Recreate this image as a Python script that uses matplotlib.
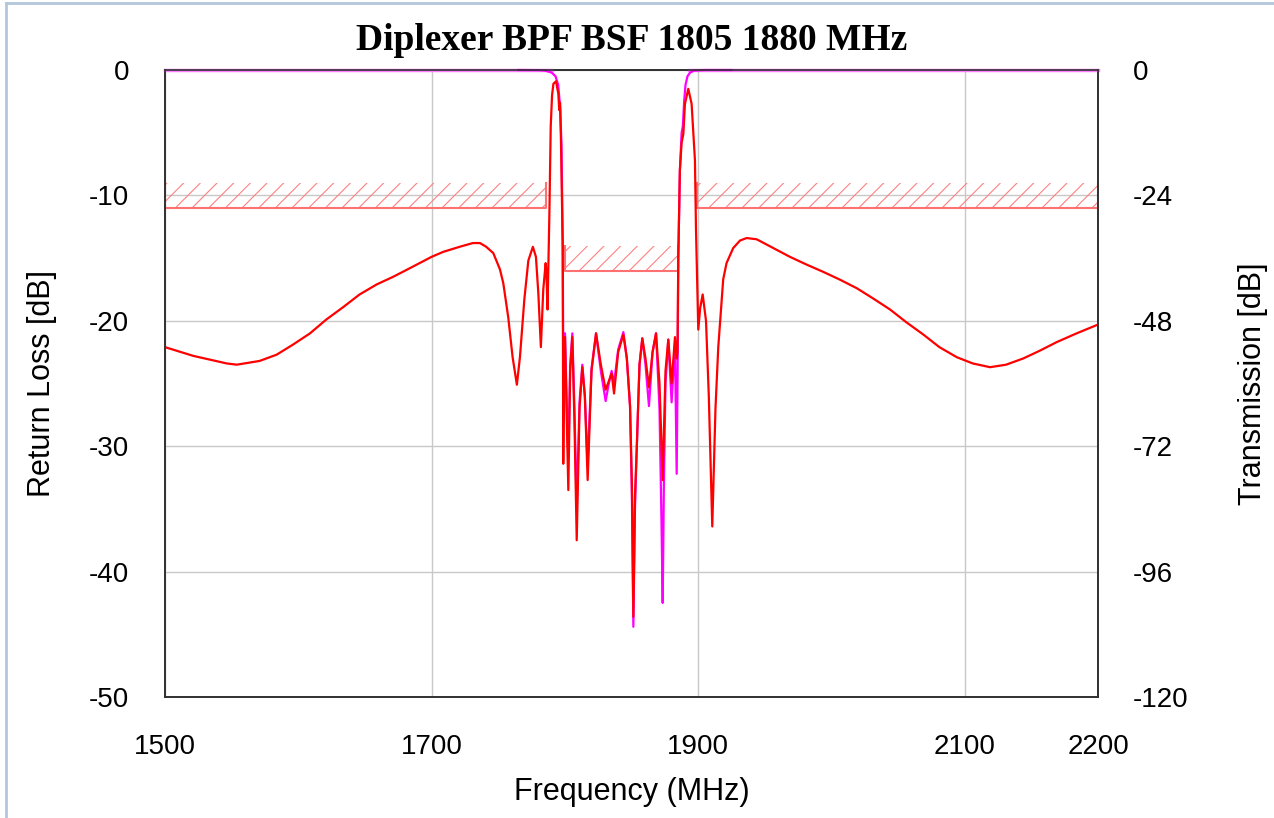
import matplotlib
matplotlib.use("Agg")
import matplotlib.pyplot as plt
from matplotlib.patches import Rectangle
from matplotlib.lines import Line2D

plt.rcParams['font.family'] = ['Liberation Sans', 'DejaVu Sans']
plt.rcParams['axes.unicode_minus'] = False
plt.rcParams['hatch.linewidth'] = 0.8

# common port return loss (red)
f_red = [1500, 1521.3, 1546.3, 1553.8, 1571, 1583.8, 1596, 1608.8, 1621, 1633.8, 1646, 1658.8,
         1671, 1683.8, 1700, 1708.8, 1721, 1731, 1736.3, 1741, 1746.3, 1751.3, 1753.8, 1757.5,
         1760.8, 1764, 1766.3, 1769.6, 1772.6, 1776, 1778.3, 1780.1, 1782, 1783.8, 1785.6, 1786.2,
         1787, 1788.4, 1789.4,
         1790.4, 1791.4, 1793.4, 1795.1, 1795.8, 1796.4, 1797.1, 1798.4, 1798.8, 1799.4, 1800.1,
         1801.3, 1802.6, 1804, 1805.6, 1807.2, 1808.9, 1811, 1813.1, 1815, 1817.1, 1820, 1823.4,
         1827, 1830.6, 1833, 1835.1, 1836.9, 1840, 1843.9, 1846.5, 1848.9, 1850.3, 1851.4, 1852.6,
         1854, 1856, 1858.1, 1860.5, 1863.1, 1865.8, 1868.4, 1871, 1873.4, 1875.5, 1877.6, 1880.1,
         1882.6, 1883.9, 1884.5, 1885.1, 1886.3, 1887.6, 1888.9, 1890.1, 1892.6, 1895.1, 1897.6,
         1898.4, 1900.1, 1901.5, 1903.4, 1905.9, 1908, 1910.6, 1913, 1915.1, 1918.8, 1921.3, 1926.3,
         1931.4, 1936.4, 1943.9, 1956.4, 1968.9, 1981, 1993.9, 2006, 2019, 2031, 2044, 2056, 2069,
         2081, 2094, 2106, 2119, 2131, 2144, 2156, 2169, 2184, 2200]
rl_red = [-22.1, -22.8, -23.4, -23.5, -23.2, -22.7, -21.9, -21.0, -19.9, -18.9, -17.9, -17.1,
          -16.5, -15.8, -14.9, -14.5, -14.1, -13.8, -13.8, -14.1, -14.6, -15.9, -17.0, -19.7,
          -22.9, -25.1, -22.9, -18.3, -15.2, -14.1, -14.9, -17.8, -22.1, -17.5, -15.4, -16.2,
          -19.1, -11.4, -4.5,
          -2.0, -1.1, -0.9, -1.9, -3.2, -2.6, -5.8, -14.1, -31.4, -23.1, -21.3,
          -27.0, -33.5, -24.0, -21.3, -28.0, -37.5, -27.0, -23.7, -26.0, -32.7, -24.0, -21.0,
          -23.5, -25.5, -24.8, -24.2, -25.8, -22.5, -21.1, -23.0, -26.8, -33.0, -43.6, -34.0,
          -30.0, -23.5, -21.4, -23.0, -25.3, -22.5, -21.0, -25.0, -32.7, -24.0, -21.5, -25.0,
          -21.3, -23.0, -22.5, -15.0, -8.0, -5.8, -5.1, -2.7, -1.5, -2.7, -7.2,
          -12.8, -20.7, -19.0, -17.9, -20.0, -26.0, -36.4, -27.0, -22.1, -16.7, -15.4, -14.2,
          -13.6, -13.4, -13.5, -14.2, -14.9, -15.5, -16.1, -16.7, -17.4, -18.2, -19.1, -20.1, -21.1,
          -22.1, -22.9, -23.4, -23.7, -23.5, -23.0, -22.4, -21.7, -21.0, -20.3]

# BPF port return loss (magenta)
f_mag = [1765, 1780, 1785, 1790, 1793, 1795, 1796.5, 1797.5, 1798.4, 1799.0, 1799.6, 1800.1,
         1801.3, 1802.6, 1804, 1805.6, 1807.2, 1808.9, 1811, 1813.1, 1815, 1817.1, 1820, 1823.4,
         1827, 1830.6, 1833, 1835.1, 1836.9, 1840, 1843.9, 1846.5, 1848.9, 1850.3, 1851.4, 1852.6,
         1854, 1856, 1858.1, 1860.5, 1863.1, 1865.8, 1868.4, 1871, 1872.5, 1873.4, 1874.3, 1875.5,
         1877.6, 1880.1, 1882.6, 1883.9, 1884.6, 1885.1, 1886.3, 1887.6, 1888.5, 1889.5, 1890.5,
         1892, 1894, 1897, 1905, 1925]
rl_mag = [0.0, -0.01, -0.05, -0.2, -0.5, -1.2, -3.0, -6.0, -14.0, -28.0, -21.5, -21.0,
          -26.0, -31.0, -23.5, -21.0, -27.0, -35.0, -26.5, -23.5, -26.0, -31.5, -23.8, -21.0,
          -24.0, -26.4, -25.0, -24.0, -25.0, -22.3, -20.9, -23.0, -26.8, -34.0, -44.4, -35.0,
          -30.0, -23.5, -21.4, -23.5, -26.8, -22.5, -21.0, -27.0, -36.0, -42.5, -33.0, -25.0,
          -21.5, -26.5, -21.8, -32.2, -24.0, -15.0, -8.0, -5.0, -4.5, -2.5, -1.2,
          -0.5, -0.2, -0.05, 0.0, 0.0]

# spec masks in dB: start, stop, limit line, top of hatching
mask_f0 = [1500, 1800, 1899]
mask_f1 = [1786, 1885, 2200]
mask_lo = [-11, -16, -11]
mask_hi = [-9, -14, -9]

fig = plt.figure(figsize=(12.74, 8.18), dpi=100)
ax = fig.add_axes([165 / 1274, 121 / 818, 933 / 1274, 627 / 818])
ax2 = ax.twinx()

ax.set_xlim(1500, 2200)
ax.set_ylim(-50, 0)
ax2.set_ylim(-120, 0)

ax.set_xticks([1500, 1700, 1900, 2100, 2200])
ax.set_yticks(range(-50, 1, 10))
ax2.set_yticks(range(-120, 1, 24))

ax.grid(True, color='#c8c8c8', linewidth=1)
ax.set_axisbelow(True)
for a in (ax, ax2):
    for s in a.spines.values():
        s.set_color('#303030')
        s.set_linewidth(1.2)
    a.tick_params(length=0, labelsize=20)
ax.tick_params(axis='x', pad=27)
ax.tick_params(axis='y', pad=26)
ax2.tick_params(axis='y', pad=25)

ax.set_xlabel('Frequency (MHz)', fontsize=22, labelpad=12)
ax.set_ylabel('Return Loss [dB]', fontsize=22, labelpad=23)
ax2.set_ylabel('Transmission [dB]', fontsize=22, labelpad=36)

# masks
for f0, f1, lo, hi in zip(mask_f0, mask_f1, mask_lo, mask_hi):
    ax.add_patch(Rectangle((f0, lo), f1 - f0, hi - lo, facecolor='none',
                           edgecolor='#ff8080', hatch='//', linewidth=0, zorder=2))
    ax.plot([f0, f0, f1, f1], [hi, lo, lo, hi], color='#ff7070', linewidth=1.5, zorder=2)

# zero line of the second trace along the top
ax.plot([1500, 1790], [0, 0], color='#ff80ff', linewidth=2.5, clip_on=False, zorder=3)
ax.plot([1893, 2200], [0, 0], color='#ff80ff', linewidth=2.5, clip_on=False, zorder=3)

ax.plot(f_mag, rl_mag, color='#ff00ff', linewidth=1.6, clip_on=False, zorder=4)
ax.plot(f_red, rl_red, color='#ff0000', linewidth=1.6, zorder=5)

fig.suptitle('Diplexer BPF BSF 1805 1880 MHz', x=632 / 1274, y=1 - 40 / 818, va='center',
             fontsize=27, fontweight='bold', family='Liberation Serif')

# light frame around the picture
fig.add_artist(Line2D([6 / 1274, 6 / 1274], [0, 1 - 3 / 818], color='#b4c6dc', linewidth=2))
fig.add_artist(Line2D([6 / 1274, 1], [1 - 3 / 818, 1 - 3 / 818], color='#b4c6dc', linewidth=2))

fig.savefig('out.png', dpi=100)
